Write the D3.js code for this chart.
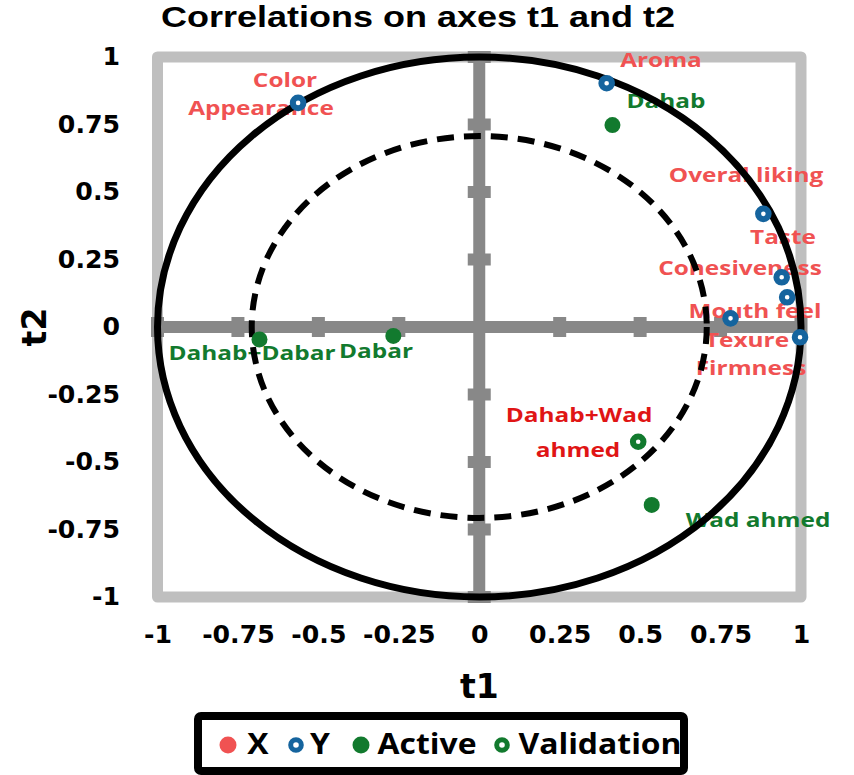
<!DOCTYPE html>
<html lang="en">

<head>
    <meta charset="UTF-8">
    <title>Correlations on axes t1 and t2</title>
    <style>
        body {
            margin: 0;
            background-color: white;
        }

        svg {
            display: block;
            background-color: white;
        }
    </style>
</head>

<body>
    <script src="https://d3js.org/d3.v7.min.js"></script>
    <script>
        {
            // Y variables (blue open markers, red labels)
            let yNames = ['Color', 'Aroma', 'Overal liking', 'Taste', 'Cohesiveness', 'Mouth feel', 'Texure'];
            let yT1 = [-0.563, 0.396, 0.883, 0.940, 0.957, 0.781, 0.997];
            let yT2 = [0.830, 0.903, 0.419, 0.184, 0.110, 0.032, -0.038];

            // observations
            let activeNames = ['Dahab', 'Dahab+Dabar', 'Dabar', 'Wad ahmed'];
            let activeT1 = [0.414, -0.683, -0.267, 0.536];
            let activeT2 = [0.748, -0.046, -0.033, -0.659];

            let validNames = ['Dahab+Wad ahmed'];
            let validT1 = [0.494];
            let validT2 = [-0.425];

            let tickValues = [-1, -0.75, -0.5, -0.25, 0, 0.25, 0.5, 0.75, 1];
            let legendNames = ['X', 'Y', 'Active', 'Validation'];

            // label placement (pixels, baseline centre)
            let labels = [
                ['Color', 285, 87, 'red'],
                ['Appearance', 261, 115, 'red'],
                ['Aroma', 661, 67, 'red'],
                ['Dahab', 666, 108, 'green'],
                ['Overal liking', 746, 182, 'red'],
                ['Taste', 783, 244, 'red'],
                ['Cohesiveness', 740, 275, 'red'],
                ['Mouth feel', 755, 318, 'red'],
                ['Texure', 747, 347, 'red'],
                ['Firmness', 751, 375, 'red'],
                ['Dahab+Dabar', 252, 360, 'green'],
                ['Dabar', 376, 358, 'green'],
                ['Dahab+Wad', 579, 422, 'vred'],
                ['ahmed', 578, 457, 'vred'],
                ['Wad ahmed', 758, 527, 'green']
            ];

            let colors = {
                red: '#f05252',
                vred: '#e01515',
                green: '#127a2e',
                blue: '#15649e',
                frame: '#bfbfbf',
                axis: '#888888'
            };

            let labelFont = '"Open Sans", "DejaVu Sans", sans-serif';
            let tickFont = '"DejaVu Sans", sans-serif';

            let svg = d3.select('body')
                .append('svg')
                .attr('width', 854)
                .attr('height', 775);

            let x = d3.scaleLinear().domain([-1, 1]).range([157.5, 801]);
            let y = d3.scaleLinear().domain([-1, 1]).range([597, 57]);

            // the original picture is stretched sideways, so text is too
            function stretchedText(g, str, px, py, size, fill, family, sx) {
                return g.append('text')
                    .attr('transform', `translate(${px},${py}) scale(${sx},1)`)
                    .attr('text-anchor', 'middle')
                    .style('font-family', family)
                    .style('font-weight', 'bold')
                    .style('font-size', size + 'px')
                    .attr('fill', fill)
                    .text(str);
            }

            // title
            stretchedText(svg, 'Correlations on axes t1 and t2', 418, 27, 30, 'black', '"Liberation Sans", Arial, sans-serif', 1.2);

            // frame
            svg.append('rect')
                .attr('x', x(-1)).attr('y', y(1))
                .attr('width', x(1) - x(-1)).attr('height', y(-1) - y(1))
                .attr('fill', 'none')
                .attr('stroke', colors.frame)
                .attr('stroke-width', 11)
                .attr('stroke-linejoin', 'round');

            // axis lines through zero
            let axes = svg.append('g');
            axes.append('line')
                .attr('x1', x(-1) - 5).attr('x2', x(1) + 5)
                .attr('y1', y(0)).attr('y2', y(0))
                .attr('stroke', colors.axis).attr('stroke-width', 12);
            axes.append('line')
                .attr('x1', x(0)).attr('x2', x(0))
                .attr('y1', y(1) - 5).attr('y2', y(-1) + 5)
                .attr('stroke', colors.axis).attr('stroke-width', 12);

            let markTicks = tickValues.filter(d => d !== 0);
            axes.selectAll('rect.hx')
                .data(markTicks)
                .enter().append('rect')
                .attr('class', 'hx')
                .attr('x', d => x(d) - 6.5).attr('y', y(0) - 10)
                .attr('width', 13).attr('height', 20)
                .attr('fill', colors.axis);
            axes.selectAll('rect.vy')
                .data(markTicks)
                .enter().append('rect')
                .attr('class', 'vy')
                .attr('x', x(0) - 11.5).attr('y', d => y(d) - 6)
                .attr('width', 23).attr('height', 12)
                .attr('fill', colors.axis);

            // tick labels
            let fmt = d => String(d);
            let yAxis = svg.append('g')
                .attr('transform', 'translate(120,0)')
                .call(d3.axisLeft(y).tickValues(tickValues).tickSize(0).tickPadding(0).tickFormat(fmt));
            let xAxis = svg.append('g')
                .attr('transform', 'translate(0,626)')
                .call(d3.axisBottom(x).tickValues(tickValues).tickSize(0).tickPadding(0).tickFormat(fmt));
            [xAxis, yAxis].forEach(a => {
                a.select('.domain').remove();
                a.selectAll('text')
                    .attr('fill', 'black')
                    .attr('transform', 'scale(1.05,1)')
                    .style('font-family', tickFont)
                    .style('font-weight', 'bold')
                    .style('font-size', '24px');
            });

            // axis titles
            svg.append('text')
                .attr('x', x(0)).attr('y', 698)
                .attr('text-anchor', 'middle')
                .style('font-family', tickFont).style('font-weight', 'bold').style('font-size', '33px')
                .text('t1');
            svg.append('text')
                .attr('transform', `translate(46,${y(0)}) rotate(-90)`)
                .attr('text-anchor', 'middle')
                .style('font-family', tickFont).style('font-weight', 'bold').style('font-size', '33px')
                .text('t2');

            // point labels (under the circles, like the original)
            let lab = svg.append('g');
            labels.forEach(l => stretchedText(lab, l[0], l[1], l[2], 20, colors[l[3]], labelFont, 1.22));

            // correlation circles
            svg.append('ellipse')
                .attr('cx', x(0)).attr('cy', y(0))
                .attr('rx', x(1) - x(0)).attr('ry', y(0) - y(1))
                .attr('fill', 'none').attr('stroke', 'black').attr('stroke-width', 7);
            let r50 = Math.sqrt(0.5);
            svg.append('ellipse')
                .attr('cx', x(0)).attr('cy', y(0))
                .attr('rx', x(r50) - x(0)).attr('ry', y(0) - y(r50))
                .attr('fill', 'none').attr('stroke', 'black').attr('stroke-width', 6)
                .attr('stroke-dasharray', '17,10');

            // points
            let pts = svg.append('g');
            pts.selectAll('circle.y')
                .data(yNames.map((n, i) => ({ name: n, t1: yT1[i], t2: yT2[i] })))
                .enter().append('circle')
                .attr('class', 'y')
                .attr('cx', d => x(d.t1)).attr('cy', d => y(d.t2))
                .attr('r', 5.3)
                .attr('fill', 'white').attr('stroke', colors.blue).attr('stroke-width', 6);
            pts.selectAll('circle.act')
                .data(activeNames.map((n, i) => ({ name: n, t1: activeT1[i], t2: activeT2[i] })))
                .enter().append('circle')
                .attr('class', 'act')
                .attr('cx', d => x(d.t1)).attr('cy', d => y(d.t2))
                .attr('r', 8)
                .attr('fill', colors.green);
            pts.selectAll('circle.val')
                .data(validNames.map((n, i) => ({ name: n, t1: validT1[i], t2: validT2[i] })))
                .enter().append('circle')
                .attr('class', 'val')
                .attr('cx', d => x(d.t1)).attr('cy', d => y(d.t2))
                .attr('r', 5.3)
                .attr('fill', 'white').attr('stroke', colors.green).attr('stroke-width', 6);

            // legend
            let legend = svg.append('g');
            legend.append('rect')
                .attr('x', 198).attr('y', 716)
                .attr('width', 486).attr('height', 55)
                .attr('fill', 'white').attr('stroke', 'black').attr('stroke-width', 8)
                .attr('rx', 3);
            let legendMarkX = [228, 296, 361, 502];
            let legendTextX = [258, 320, 427, 600];
            legendNames.forEach((n, i) => {
                let m = legend.append('circle').attr('cx', legendMarkX[i]).attr('cy', 745);
                if (i === 0) m.attr('r', 8.5).attr('fill', colors.red);
                if (i === 1) m.attr('r', 5.3).attr('fill', 'white').attr('stroke', colors.blue).attr('stroke-width', 5);
                if (i === 2) m.attr('r', 8.5).attr('fill', colors.green);
                if (i === 3) m.attr('r', 5.3).attr('fill', 'white').attr('stroke', colors.green).attr('stroke-width', 5);
                stretchedText(legend, n, legendTextX[i], 754, 29, 'black', labelFont, 1.1);
            });
        }
    </script>
</body>

</html>
